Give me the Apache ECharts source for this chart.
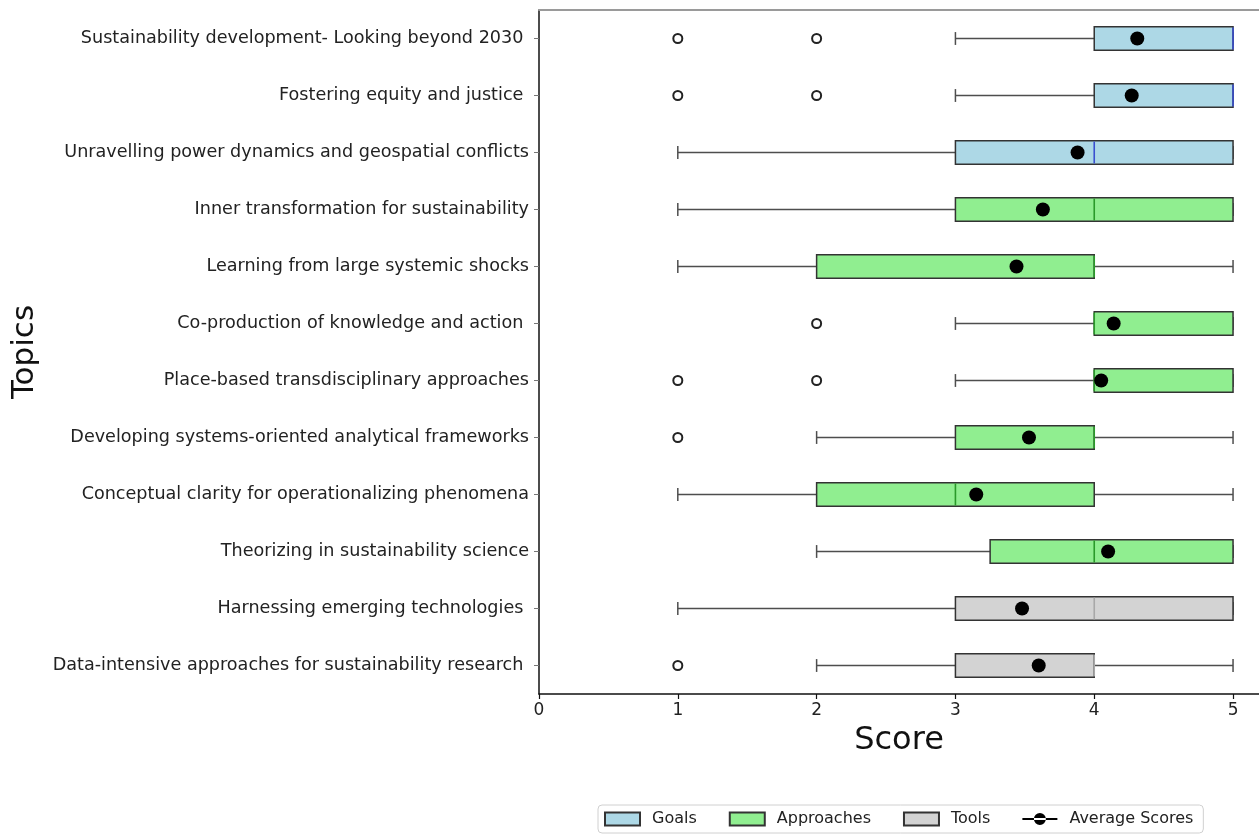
<!DOCTYPE html>
<html>
<head>
<meta charset="utf-8">
<script src="https://cdn.jsdelivr.net/npm/echarts@6/dist/echarts.min.js"></script>
<style>
  html, body { margin: 0; padding: 0; background: #fff; }
  #chart { width: 1259px; height: 834px; }
</style>
</head>
<body>
<div id="chart"></div>
<script>
// Topics, top to bottom
const topics = [
  'Sustainability development- Looking beyond 2030 ',
  'Fostering equity and justice ',
  'Unravelling power dynamics and geospatial conflicts',
  'Inner transformation for sustainability',
  'Learning from large systemic shocks',
  'Co-production of knowledge and action ',
  'Place-based transdisciplinary approaches',
  'Developing systems-oriented analytical frameworks',
  'Conceptual clarity for operationalizing phenomena',
  'Theorizing in sustainability science',
  'Harnessing emerging technologies ',
  'Data-intensive approaches for sustainability research '
];
const groups = ['Goals', 'Goals', 'Goals',
  'Approaches', 'Approaches', 'Approaches', 'Approaches', 'Approaches', 'Approaches', 'Approaches',
  'Tools', 'Tools'];

// Five-number summaries per topic
const whiskerLow  = [3, 3, 1, 1, 1, 3, 3, 2, 1, 2, 1, 2];
const quartile1   = [4, 4, 3, 3, 2, 4, 4, 3, 2, 3.25, 3, 3];
const medians     = [5, 5, 4, 4, 4, 4, 4, 4, 3, 4, 4, 4];
const quartile3   = [5, 5, 5, 5, 4, 5, 5, 4, 4, 5, 5, 4];
const whiskerHigh = [5, 5, 5, 5, 5, 5, 5, 5, 5, 5, 5, 5];

// Mean score per topic
const averages = [4.31, 4.27, 3.88, 3.63, 3.44, 4.14, 4.05, 3.53, 3.15, 4.10, 3.48, 3.60];

// Outlying responses per topic
const outliers = [[1, 2], [1, 2], [], [], [], [2], [1, 2], [1], [], [], [], [1]];

const xTicks = [0, 1, 2, 3, 4, 5];

const groupStyles = {
  Goals:      { fill: '#add8e6', median: '#3a4fd0' },
  Approaches: { fill: '#90ee90', median: '#2a9a2a' },
  Tools:      { fill: '#d3d3d3', median: '#a8a8a8' }
};

const FONT = 'DejaVu Sans';

function boxData(groupName) {
  const rows = [];
  topics.forEach((t, i) => {
    if (groups[i] === groupName) {
      rows.push([i, whiskerLow[i], quartile1[i], medians[i], quartile3[i], whiskerHigh[i]]);
    }
  });
  return rows;
}

function makeRenderer(groupName) {
  const st = groupStyles[groupName];
  return function (params, api) {
    const cat = api.value(0);
    const lo = api.coord([api.value(1), cat]);
    const q1 = api.coord([api.value(2), cat]);
    const md = api.coord([api.value(3), cat]);
    const q3 = api.coord([api.value(4), cat]);
    const hi = api.coord([api.value(5), cat]);
    const band = api.size([0, 1])[1];
    const h = band * 0.41;
    const cap = h * 0.55;
    const y = lo[1];
    const whisk = { stroke: '#4e4e4e', lineWidth: 1.5 };
    const kids = [];
    if (lo[0] < q1[0]) {
      kids.push({ type: 'line', shape: { x1: lo[0], y1: y, x2: q1[0], y2: y }, style: whisk });
    }
    if (hi[0] > q3[0]) {
      kids.push({ type: 'line', shape: { x1: q3[0], y1: y, x2: hi[0], y2: y }, style: whisk });
    }
    kids.push({ type: 'line', shape: { x1: lo[0], y1: y - cap / 2, x2: lo[0], y2: y + cap / 2 }, style: whisk });
    kids.push({ type: 'line', shape: { x1: hi[0], y1: y - cap / 2, x2: hi[0], y2: y + cap / 2 }, style: whisk });
    kids.push({
      type: 'rect',
      shape: { x: q1[0], y: y - h / 2, width: q3[0] - q1[0], height: h },
      style: { fill: st.fill, stroke: '#333', lineWidth: 1.5 }
    });
    kids.push({
      type: 'line',
      shape: { x1: md[0], y1: y - h / 2 + 0.75, x2: md[0], y2: y + h / 2 - 0.75 },
      style: { stroke: st.median, lineWidth: 1.6 }
    });
    return { type: 'group', children: kids };
  };
}

const outlierPoints = [];
outliers.forEach((vals, i) => vals.forEach(v => outlierPoints.push([v, i])));
const meanPoints = averages.map((v, i) => [v, i]);

const boxSeries = ['Goals', 'Approaches', 'Tools'].map(g => ({
  name: g,
  type: 'custom',
  renderItem: makeRenderer(g),
  encode: { x: [1, 2, 3, 4, 5], y: 0 },
  itemStyle: { color: groupStyles[g].fill, borderColor: '#333', borderWidth: 1.5 },
  data: boxData(g),
  z: 2
}));

const chart = echarts.init(document.getElementById('chart'), null, { renderer: 'canvas' });

// the x range runs a little past 5 so the plot frame continues to the right edge
const X_MAX = 5.187;

chart.setOption({
  animation: false,
  textStyle: { fontFamily: FONT },
  grid: { left: 539, top: 10, right: 0, height: 684, containLabel: false },
  legend: {
    left: 598,
    top: 805,
    orient: 'horizontal',
    itemWidth: 35,
    itemHeight: 13,
    itemGap: 32,
    padding: [6, 10, 6, 6],
    borderColor: '#d0d0d0',
    borderWidth: 1,
    borderRadius: 4,
    textStyle: { fontFamily: FONT, fontSize: 16, color: '#222', padding: [0, 0, 0, 7] },
    data: [
      { name: 'Goals', icon: 'rect' },
      { name: 'Approaches', icon: 'rect' },
      { name: 'Tools', icon: 'rect' },
      { name: 'Average Scores', icon: 'path://M0,5.6h35v1.8H0z M11.5,6.5a6,6 0 1,0 12,0a6,6 0 1,0 -12,0z', itemStyle: { color: '#000' } }
    ]
  },
  xAxis: [{
    type: 'value',
    min: 0,
    max: X_MAX,
    interval: 1,
    name: 'Score',
    nameLocation: 'middle',
    nameGap: 31,
    nameTextStyle: { fontFamily: FONT, fontSize: 32, color: '#111' },
    axisLine: { show: true, lineStyle: { color: '#111', width: 1.5 } },
    axisTick: { show: true, length: 5, customValues: xTicks, lineStyle: { color: '#111', width: 1.2 } },
    axisLabel: { customValues: xTicks, fontFamily: FONT, fontSize: 17, color: '#222', margin: 8 },
    splitLine: { show: false }
  }, {
    type: 'value',
    position: 'top',
    min: 0,
    max: X_MAX,
    axisLine: { show: true, onZero: false, lineStyle: { color: '#9a9a9a', width: 2 } },
    axisTick: { show: false },
    axisLabel: { show: false },
    splitLine: { show: false }
  }],
  yAxis: {
    type: 'category',
    data: topics,
    inverse: true,
    name: 'Topics',
    nameLocation: 'middle',
    nameGap: 499,
    nameRotate: 90,
    nameTextStyle: { fontFamily: FONT, fontSize: 31, color: '#111' },
    axisLine: { show: true, lineStyle: { color: '#111', width: 1.5 } },
    axisTick: { show: true, alignWithLabel: true, length: 5, lineStyle: { color: '#777', width: 1 } },
    axisLabel: { fontFamily: FONT, fontSize: 17.6, color: '#222', margin: 10 },
    splitLine: { show: false }
  },
  series: boxSeries.concat([
    {
      name: 'Outliers',
      type: 'scatter',
      data: outlierPoints,
      symbol: 'circle',
      symbolSize: 9,
      itemStyle: { color: '#fff', borderColor: '#222', borderWidth: 2, opacity: 1 },
      z: 3
    },
    {
      name: 'Average Scores',
      type: 'scatter',
      data: meanPoints,
      symbol: 'circle',
      symbolSize: 14,
      itemStyle: { color: '#000', opacity: 1 },
      z: 4
    }
  ])
});
</script>
</body>
</html>
